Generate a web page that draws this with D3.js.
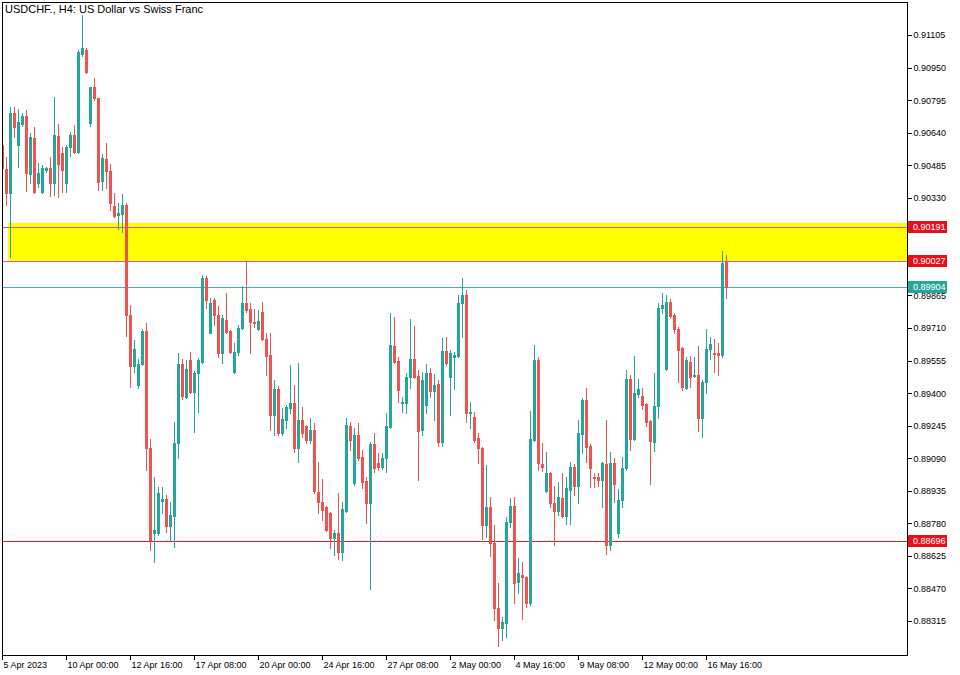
<!DOCTYPE html>
<html><head><meta charset="utf-8">
<script src="https://cdn.jsdelivr.net/npm/d3@7"></script>
<style>
body{margin:0;background:#fff}
text{font-family:"Liberation Sans",Arial,sans-serif}
</style>
</head><body>
<svg id="chart" width="960" height="675"></svg>
<script>
const opens=[0.90581,0.90467,0.90353,0.90734,0.90581,0.90681,0.90719,0.90443,0.90615,0.90400,
0.90358,0.90462,0.90472,0.90400,0.90624,0.90543,0.90400,0.90572,0.90629,0.90548,
0.91015,0.91034,0.90686,0.90857,0.90805,0.90410,0.90515,0.90457,0.90291,0.90248,
0.90253,0.90296,0.89772,0.89529,0.89439,0.89539,0.89696,0.89139,0.88734,0.88734,
0.88886,0.88896,0.88767,0.88815,0.89162,0.89539,0.89381,0.89558,0.89405,0.89496,
0.89548,0.89948,0.89686,0.89843,0.89772,0.89591,0.89748,0.89696,0.89500,0.89596,
0.89710,0.89829,0.89801,0.89739,0.89705,0.89786,0.89658,0.89582,0.89296,0.89420,
0.89210,0.89272,0.89329,0.89353,0.89139,0.89272,0.89243,0.89177,0.89224,0.88929,
0.88882,0.88858,0.88829,0.88710,0.88734,0.88644,0.88839,0.89243,0.88972,0.89201,
0.89096,0.88982,0.88877,0.89158,0.89067,0.89048,0.89091,0.89239,0.89624,0.89553,
0.89353,0.89353,0.89477,0.89562,0.89481,0.89224,0.89343,0.89496,0.89410,0.89443,
0.89167,0.89601,0.89477,0.89572,0.89577,0.89829,0.89867,0.89305,0.89286,0.89186,
0.89139,0.88772,0.88858,0.88686,0.88377,0.88282,0.88306,0.88786,0.88862,0.88501,
0.88534,0.88524,0.88401,0.89177,0.89558,0.89063,0.88934,0.89020,0.88877,0.88839,
0.88901,0.88815,0.88939,0.89048,0.88958,0.89205,0.89367,0.89148,0.89001,0.89001,
0.88986,0.89063,0.88677,0.89067,0.88734,0.88891,0.89043,0.89467,0.89182,0.89396,
0.89386,0.89348,0.89267,0.89167,0.89339,0.89805,0.89515,0.89834,0.89772,0.89705,
0.89615,0.89424,0.89548,0.89481,0.89486,0.89281,0.89453,0.89610,0.89591,0.89591,
0.89582,0.90029];
const highs=[0.90591,0.90524,0.90762,0.90762,0.90753,0.90734,0.90748,0.90638,0.90667,0.90496,
0.90486,0.90477,0.90524,0.90810,0.90681,0.90572,0.90581,0.90643,0.90677,0.91034,
0.91200,0.91043,0.90857,0.90900,0.90805,0.90538,0.90591,0.90491,0.90353,0.90305,
0.90348,0.90305,0.89820,0.89653,0.89562,0.89705,0.89734,0.89182,0.89001,0.88953,
0.88953,0.88915,0.88882,0.89262,0.89591,0.89562,0.89558,0.89596,0.89505,0.89567,
0.89962,0.89958,0.89853,0.89853,0.89815,0.89772,0.89877,0.89701,0.89639,0.89724,
0.89910,0.90024,0.89829,0.89801,0.89796,0.89834,0.89686,0.89686,0.89462,0.89434,
0.89329,0.89343,0.89534,0.89439,0.89543,0.89334,0.89248,0.89281,0.89258,0.89072,
0.88991,0.88862,0.88834,0.88748,0.88924,0.88882,0.89281,0.89262,0.89234,0.89258,
0.89129,0.89001,0.89167,0.89210,0.89115,0.89115,0.89305,0.89781,0.89762,0.89572,
0.89381,0.89496,0.89753,0.89720,0.89510,0.89500,0.89539,0.89520,0.89491,0.89462,
0.89662,0.89667,0.89605,0.89596,0.89867,0.89948,0.89891,0.89358,0.89310,0.89210,
0.89144,0.89058,0.88905,0.88772,0.88496,0.88334,0.88810,0.88901,0.88905,0.88615,
0.88596,0.88529,0.89315,0.89629,0.89572,0.89162,0.89120,0.89024,0.88958,0.88977,
0.89020,0.89001,0.89072,0.89063,0.89272,0.89377,0.89424,0.89158,0.89020,0.89020,
0.89072,0.89272,0.89120,0.89091,0.88943,0.89096,0.89510,0.89486,0.89577,0.89467,
0.89424,0.89353,0.89272,0.89496,0.89829,0.89877,0.89867,0.89848,0.89781,0.89715,
0.89620,0.89572,0.89577,0.89572,0.89624,0.89462,0.89705,0.89667,0.89658,0.89639,
0.90077,0.90058];
const lows=[0.90462,0.90296,0.90048,0.90619,0.90477,0.90672,0.90362,0.90400,0.90353,0.90381,
0.90353,0.90453,0.90338,0.90343,0.90334,0.90358,0.90358,0.90529,0.90543,0.90543,
0.91005,0.90924,0.90672,0.90796,0.90367,0.90367,0.90376,0.90272,0.90238,0.90181,
0.90167,0.89672,0.89429,0.89500,0.89424,0.89534,0.89034,0.88653,0.88596,0.88725,
0.88829,0.88739,0.88701,0.88667,0.89091,0.89372,0.89377,0.89400,0.89215,0.89310,
0.89543,0.89805,0.89686,0.89724,0.89572,0.89543,0.89686,0.89591,0.89496,0.89581,
0.89705,0.89786,0.89591,0.89715,0.89700,0.89653,0.89486,0.89224,0.89201,0.89201,
0.89201,0.89234,0.89305,0.89120,0.89072,0.89191,0.89162,0.89162,0.88924,0.88829,
0.88796,0.88743,0.88663,0.88629,0.88610,0.88605,0.88834,0.89129,0.88962,0.89082,
0.88948,0.88782,0.88467,0.89024,0.89034,0.89039,0.89024,0.89234,0.89543,0.89358,
0.89310,0.89305,0.89424,0.89472,0.88986,0.89201,0.89305,0.89381,0.89272,0.89148,
0.89148,0.89534,0.89296,0.89420,0.89572,0.89667,0.89262,0.89234,0.89167,0.89067,
0.88706,0.88715,0.88625,0.88320,0.88196,0.88225,0.88239,0.88763,0.88401,0.88448,
0.88325,0.88382,0.88391,0.89172,0.89034,0.89029,0.88929,0.88858,0.88677,0.88820,
0.88810,0.88777,0.88777,0.88915,0.88877,0.89115,0.89072,0.88953,0.88953,0.88958,
0.88858,0.88634,0.88653,0.88882,0.88715,0.88858,0.89034,0.89129,0.89177,0.89381,
0.89324,0.89243,0.88967,0.89124,0.89281,0.89781,0.89510,0.89758,0.89686,0.89453,
0.89415,0.89420,0.89429,0.89477,0.89220,0.89191,0.89400,0.89562,0.89500,0.89486,
0.89572,0.89853];
const closes=[0.90472,0.90353,0.90734,0.90667,0.90691,0.90719,0.90448,0.90619,0.90358,0.90448,
0.90472,0.90472,0.90400,0.90629,0.90491,0.90462,0.90572,0.90629,0.90548,0.91024,
0.91043,0.90929,0.90857,0.90805,0.90405,0.90519,0.90457,0.90305,0.90243,0.90257,
0.90296,0.89772,0.89529,0.89610,0.89539,0.89696,0.89139,0.88701,0.88748,0.88924,
0.88896,0.88767,0.88820,0.89162,0.89539,0.89386,0.89515,0.89405,0.89496,0.89558,
0.89948,0.89843,0.89829,0.89772,0.89591,0.89758,0.89691,0.89596,0.89596,0.89710,
0.89829,0.89796,0.89739,0.89734,0.89743,0.89658,0.89577,0.89296,0.89420,0.89210,
0.89277,0.89334,0.89353,0.89139,0.89272,0.89210,0.89177,0.89224,0.88934,0.88882,
0.88843,0.88748,0.88710,0.88734,0.88644,0.88848,0.89248,0.89177,0.89201,0.89091,
0.88977,0.88877,0.89158,0.89043,0.89048,0.89091,0.89243,0.89629,0.89548,0.89415,
0.89358,0.89477,0.89562,0.89477,0.89220,0.89462,0.89496,0.89410,0.89439,0.89167,
0.89601,0.89543,0.89591,0.89582,0.89829,0.89867,0.89305,0.89310,0.89177,0.89139,
0.88772,0.88858,0.88686,0.88377,0.88282,0.88310,0.88786,0.88862,0.88496,0.88544,
0.88524,0.88401,0.89182,0.89558,0.89067,0.89048,0.89020,0.88877,0.88839,0.88905,
0.88815,0.88948,0.89048,0.88958,0.89210,0.89367,0.89144,0.89043,0.88996,0.88986,
0.89067,0.88677,0.89067,0.88967,0.88891,0.89043,0.89467,0.89182,0.89400,0.89420,
0.89343,0.89262,0.89172,0.89339,0.89805,0.89820,0.89834,0.89767,0.89705,0.89605,
0.89429,0.89558,0.89477,0.89486,0.89281,0.89453,0.89610,0.89634,0.89586,0.89582,
0.90019,0.89904];

const priceTicks=[0.91105,0.90950,0.90795,0.90640,0.90485,0.90330,0.89865,0.89710,
0.89555,0.89400,0.89245,0.89090,0.88935,0.88780,0.88625,0.88470,0.88315];
const dateTickBars=[0,16,32,48,64,80,96,112,128,144,160,176];
const dateLabels=["5 Apr 2023","10 Apr 00:00","12 Apr 16:00","17 Apr 08:00","20 Apr 00:00","24 Apr 16:00",
"27 Apr 08:00","2 May 00:00","4 May 16:00","9 May 08:00","12 May 00:00","16 May 16:00"];
const levelValues=[0.90191,0.90027,0.89904,0.88696];
const levelKinds=["zone","zone","bid","support"];
const zoneTop=0.90210, zoneBottom=0.90030, zoneStartBar=1.5;
const title="USDCHF., H4:  US Dollar vs Swiss Franc";

const W=960,H=675;
const plot={left:2,top:2,right:907,bottom:655};
const bull="#26a69a", bear="#ef5350";
const svg=d3.select("#chart");
svg.append("rect").attr("width",W).attr("height",H).attr("fill","#fff");

const x=d3.scaleLinear().domain([0,226]).range([2,906]);
const y=d3.scaleLinear().domain([0.88315,0.91105]).range([621,35]);

svg.append("defs").append("clipPath").attr("id","clip")
  .append("rect").attr("x",plot.left+1).attr("y",plot.top+1)
  .attr("width",plot.right-plot.left-1).attr("height",plot.bottom-plot.top-1);

const g=svg.append("g").attr("clip-path","url(#clip)").attr("shape-rendering","crispEdges");

// zone
g.append("rect").attr("x",x(zoneStartBar)).attr("y",Math.round(y(zoneTop)))
  .attr("width",plot.right-x(zoneStartBar)).attr("height",Math.round(y(zoneBottom))-Math.round(y(zoneTop)))
  .attr("fill","#ffff00");

const lineColor={zone:"#d24fd2",bid:"#3fb0b4",support:"#e02020"};
const labelColor={zone:"#e8101a",bid:"#26a69a",support:"#e8101a"};
levelValues.forEach((v,k)=>{
  const yy=Math.round(y(v));
  g.append("rect").attr("x",plot.left).attr("width",plot.right-plot.left).attr("y",yy).attr("height",1)
   .attr("fill",lineColor[levelKinds[k]]);
});

// candles
const idx=d3.range(opens.length);
const cg=g.append("g");
idx.forEach(i=>{
  const cx=Math.round(x(i));
  const up=closes[i]>=opens[i];
  const col=up?bull:bear;
  const yh=Math.round(y(highs[i])), yl=Math.round(y(lows[i]));
  const yo=Math.round(y(opens[i])), yc=Math.round(y(closes[i]));
  cg.append("rect").attr("x",cx).attr("y",yh).attr("width",1).attr("height",Math.max(1,yl-yh+1)).attr("fill",col);
  const bt=Math.min(yo,yc), bb=Math.max(yo,yc);
  cg.append("rect").attr("x",cx-1).attr("y",bt).attr("width",3).attr("height",Math.max(1,bb-bt+1)).attr("fill",col);
});

// frame
svg.append("rect").attr("x",plot.left+0.5).attr("y",plot.top+0.5)
  .attr("width",plot.right-plot.left).attr("height",plot.bottom-plot.top)
  .attr("fill","none").attr("stroke","#000").attr("stroke-width",1).attr("shape-rendering","crispEdges");

// y axis
const yAxis=d3.axisRight(y).tickValues(priceTicks).tickFormat(d3.format(".5f")).tickSize(4).tickPadding(2);
const ya=svg.append("g").attr("transform",`translate(${plot.right+0.5},0)`).call(yAxis);
ya.select(".domain").remove();
ya.selectAll("line").attr("stroke","#000").attr("shape-rendering","crispEdges");
ya.selectAll("text").attr("font-size",9).attr("fill","#000").attr("font-family","Liberation Sans, Arial, sans-serif");

// level labels
levelValues.forEach((v,k)=>{
  const yy=Math.round(y(v));
  const lg=svg.append("g");
  lg.append("rect").attr("x",plot.right+1).attr("y",yy-6).attr("width",39).attr("height",12)
    .attr("fill",labelColor[levelKinds[k]]);
  lg.append("text").attr("x",plot.right+6).attr("y",yy).attr("dy","0.35em")
    .attr("font-size",9).attr("fill","#fff").text(d3.format(".5f")(v));
});

// x axis
const xAxis=d3.axisBottom(x).tickValues(dateTickBars).tickFormat((d,i)=>dateLabels[i]).tickSize(4).tickPadding(2);
const xa=svg.append("g").attr("transform",`translate(0,${plot.bottom+0.5})`).call(xAxis);
xa.select(".domain").remove();
xa.selectAll("line").attr("stroke","#000").attr("shape-rendering","crispEdges");
xa.selectAll("text").attr("font-size",9).attr("fill","#000").attr("text-anchor","start").attr("dx",1)
  .attr("font-family","Liberation Sans, Arial, sans-serif");

// title
svg.append("text").attr("x",5).attr("y",13).attr("font-size",11).attr("fill","#000").text(title);
</script>
</body></html>
